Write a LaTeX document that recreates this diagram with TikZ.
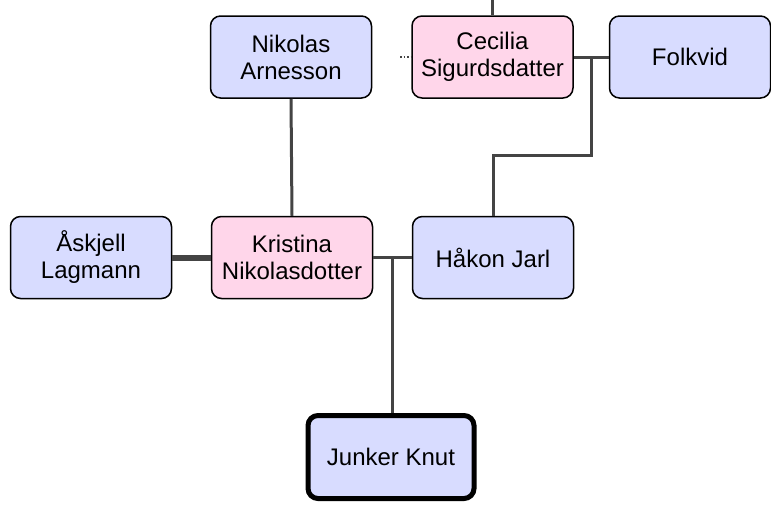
\documentclass[tikz,border=0pt]{standalone}
\usepackage{fontspec}
\setmainfont{Liberation Sans}
\usetikzlibrary{calc}

\definecolor{malefill}{RGB}{216,220,255}
\definecolor{femalefill}{RGB}{255,214,234}
\definecolor{linkgray}{RGB}{68,68,68}

\begin{document}
\begin{tikzpicture}[x=1pt,y=-1pt,
  person/.style={draw=black,line width=1.5pt,rounded corners=10pt,
    minimum width=161pt,minimum height=82pt,inner sep=0pt,align=center,
    font=\fontsize{24}{27}\selectfont},
  male/.style={person,fill=malefill},
  female/.style={person,fill=femalefill},
  link/.style={draw=linkgray,line width=3pt}]

\useasboundingbox (0,0) rectangle (771,507);

% Top row
\node[male]   (nikolas) at (291,57)  {Nikolas\\Arnesson};
\node[female] (cecilia) at (492.5,57) {Cecilia\\Sigurdsdatter};
\node[male]   (folkvid) at (690,57)  {Folkvid};

% Middle row
\node[male]   (askjell)  at (91,257.5)  {Åskjell\\Lagmann};
\node[female] (kristina) at (292,257.5) {Kristina\\Nikolasdotter};
\node[male]   (hakon)    at (493,257.5) {Håkon Jarl};

% Bottom
\node[male,line width=5pt,minimum width=166pt,minimum height=83pt] (junker) at (391,457) {Junker Knut};

% Free ends
\coordinate (up)   at (492.5,0);
\coordinate (dots) at (400,57);
\coordinate (cf) at ($(cecilia.east)!0.5!(folkvid.west)$);
\coordinate (kh) at ($(kristina.east)!0.5!(hakon.west)$);

% Connectors
\draw[link] (cecilia.north) -- (up);
\draw[linkgray,line width=1.5pt,dotted] (dots) -- (cecilia.west);
\draw[link] (cecilia.east) -- (folkvid.west);
\draw[link] (cf) -- ++(0,98) -| (hakon.north);
\draw[link] (nikolas.south) -- (kristina.north);
\draw[draw=linkgray,line width=6pt] (askjell.east) -- (kristina.west);
\draw[link] (kristina.east) -- (hakon.west);
\draw[link] (kh) -- (kh |- junker.north);

\end{tikzpicture}
\end{document}
